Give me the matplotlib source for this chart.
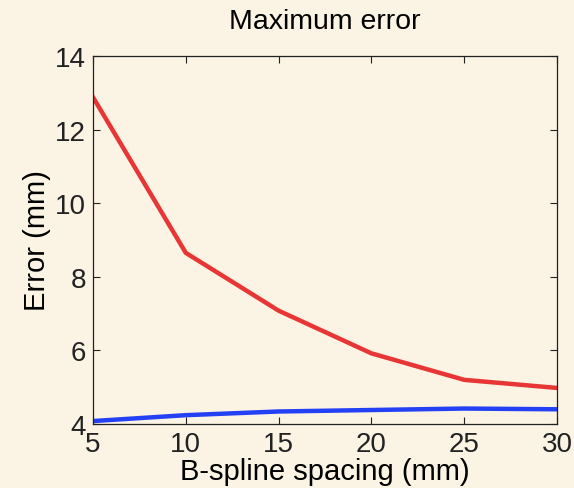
import matplotlib
matplotlib.use("Agg")
import matplotlib.pyplot as plt

plt.rcParams['font.family'] = ['Liberation Sans', 'DejaVu Sans']

spacing = [5, 10, 15, 20, 25, 30]
err_red = [12.88, 8.65, 7.08, 5.92, 5.20, 4.98]
err_blue = [4.08, 4.24, 4.34, 4.38, 4.42, 4.40]

bg = '#fbf3e3'
fig = plt.figure(figsize=(5.74, 4.89), dpi=100, facecolor=bg)
ax = fig.add_axes([93 / 574, 1 - 425 / 489, 464 / 574, 368 / 489])
ax.set_facecolor(bg)

ax.plot(spacing, err_red, color='#e83636', lw=3.2, solid_joinstyle='round')
ax.plot(spacing, err_blue, color='#2440f5', lw=3.2, solid_joinstyle='round')

ax.set_xlim(5, 30)
ax.set_ylim(4, 14)
ax.set_xticks([5, 10, 15, 20, 25, 30])
ax.set_yticks([4, 6, 8, 10, 12, 14])

ax.tick_params(direction='in', length=5, width=0.8, top=True, right=True,
               labelsize=20, pad=3, colors='#222222')
ax.tick_params(axis='x', pad=5)
ax.tick_params(axis='y', pad=5)
for s in ax.spines.values():
    s.set_linewidth(0.9)
    s.set_color('#222222')

ax.set_title('Maximum error', fontsize=20.5, pad=20)
ax.set_xlabel('B-spline spacing (mm)', fontsize=21, labelpad=0)
ax.set_ylabel('Error (mm)', fontsize=21, labelpad=3)

fig.savefig('out.png', dpi=100, facecolor=bg)
